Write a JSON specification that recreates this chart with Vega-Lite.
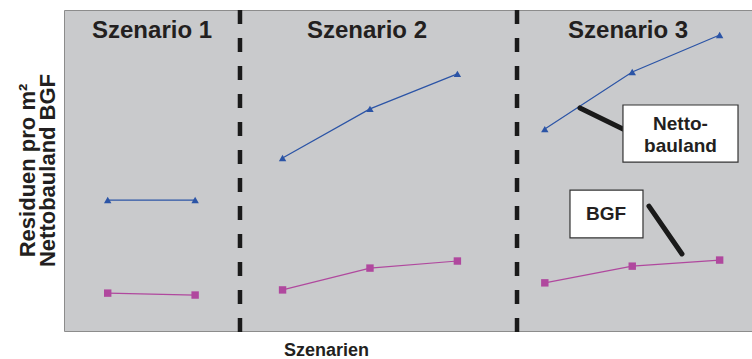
{
  "$schema": "https://vega.github.io/schema/vega-lite/v6.json",
  "autosize": "none",
  "width": 688,
  "height": 321,
  "padding": {"left": 64, "top": 10, "right": 0, "bottom": 28},
  "background": "white",
  "config": {
    "view": {"fill": "#c9cacc", "stroke": "#8c8c8c", "strokeWidth": 1},
    "font": "Liberation Sans"
  },
  "datasets": {
    "series": [
      {"idx": 1, "value": 40.8, "series": "Nettobauland", "scenario": "Szenario 1"},
      {"idx": 2, "value": 40.8, "series": "Nettobauland", "scenario": "Szenario 1"},
      {"idx": 3, "value": 53.9, "series": "Nettobauland", "scenario": "Szenario 2"},
      {"idx": 4, "value": 69.2, "series": "Nettobauland", "scenario": "Szenario 2"},
      {"idx": 5, "value": 80.1, "series": "Nettobauland", "scenario": "Szenario 2"},
      {"idx": 6, "value": 62.9, "series": "Nettobauland", "scenario": "Szenario 3"},
      {"idx": 7, "value": 80.7, "series": "Nettobauland", "scenario": "Szenario 3"},
      {"idx": 8, "value": 92.2, "series": "Nettobauland", "scenario": "Szenario 3"},
      {"idx": 1, "value": 11.8, "series": "BGF", "scenario": "Szenario 1"},
      {"idx": 2, "value": 11.2, "series": "BGF", "scenario": "Szenario 1"},
      {"idx": 3, "value": 12.8, "series": "BGF", "scenario": "Szenario 2"},
      {"idx": 4, "value": 19.6, "series": "BGF", "scenario": "Szenario 2"},
      {"idx": 5, "value": 21.8, "series": "BGF", "scenario": "Szenario 2"},
      {"idx": 6, "value": 15.0, "series": "BGF", "scenario": "Szenario 3"},
      {"idx": 7, "value": 20.2, "series": "BGF", "scenario": "Szenario 3"},
      {"idx": 8, "value": 22.1, "series": "BGF", "scenario": "Szenario 3"}
    ],
    "dividers": [
      {"pos": 2.513, "top": 100, "bottom": -0.6},
      {"pos": 5.682, "top": 100, "bottom": -0.6}
    ],
    "headers": [
      {"pos": 1.507, "y": 93.5, "label": "Szenario 1"},
      {"pos": 3.966, "y": 93.5, "label": "Szenario 2"},
      {"pos": 6.952, "y": 93.5, "label": "Szenario 3"}
    ],
    "boxes": [
      {"x1": 6.894, "x2": 8.21, "y1": 70.4, "y2": 52.6},
      {"x1": 6.288, "x2": 7.123, "y1": 43.9, "y2": 29.0}
    ],
    "leaders": [
      {"x1": 6.402, "y1": 69.5, "x2": 6.894, "y2": 62.9},
      {"x1": 7.191, "y1": 38.9, "x2": 7.569, "y2": 24.0}
    ],
    "notes": [
      {"x": 7.552, "y": 64.6, "label": "Netto-\nbauland"},
      {"x": 6.7, "y": 36.4, "label": "BGF"}
    ]
  },
  "layer": [
    {
      "data": {"name": "dividers"},
      "mark": {"type": "rule", "color": "#1a1a1a", "strokeWidth": 4.5, "strokeDash": [14, 14]},
      "encoding": {
        "x": {
          "field": "pos", "type": "quantitative",
          "scale": {"domain": [0.5, 8.37], "nice": false, "zero": false},
          "axis": {
            "domain": false, "ticks": false, "labels": false, "grid": false,
            "title": "Szenarien", "titleFontSize": 18, "titleFontWeight": "bold",
            "titleColor": "#231f20", "titleX": 262, "titleY": 19,
            "titleBaseline": "middle", "titleAlign": "center"
          }
        },
        "y": {
          "field": "top", "type": "quantitative",
          "scale": {"domain": [0, 100], "nice": false, "zero": false},
          "axis": {
            "domain": false, "ticks": false, "labels": false, "grid": false,
            "title": ["Residuen pro m²", "Nettobauland BGF"],
            "titleFontSize": 22, "titleFontWeight": "bold", "titleColor": "#231f20",
            "titleAngle": -90, "titleX": -37, "titleY": 160,
            "titleAlign": "center", "titleBaseline": "middle", "titleLineHeight": 20,
            "titleLimit": 400
          }
        },
        "y2": {"field": "bottom"}
      }
    },
    {
      "data": {"name": "series"},
      "mark": {"type": "line", "strokeWidth": 1.2},
      "encoding": {
        "x": {"field": "idx", "type": "quantitative"},
        "y": {"field": "value", "type": "quantitative"},
        "color": {
          "field": "series", "type": "nominal",
          "scale": {"domain": ["Nettobauland", "BGF"], "range": ["#2b54a6", "#b0489e"]},
          "legend": null
        },
        "detail": {"field": "scenario"}
      }
    },
    {
      "data": {"name": "series"},
      "mark": {"type": "point", "filled": true, "opacity": 1, "size": 55},
      "encoding": {
        "x": {"field": "idx", "type": "quantitative"},
        "y": {"field": "value", "type": "quantitative"},
        "color": {"field": "series", "type": "nominal", "legend": null},
        "shape": {
          "field": "series", "type": "nominal",
          "scale": {"domain": ["Nettobauland", "BGF"], "range": ["triangle-up", "square"]},
          "legend": null
        }
      }
    },
    {
      "data": {"name": "headers"},
      "mark": {"type": "text", "fontSize": 24, "fontWeight": "bold", "color": "#231f20", "align": "center", "baseline": "middle"},
      "encoding": {
        "x": {"field": "pos", "type": "quantitative"},
        "y": {"field": "y", "type": "quantitative"},
        "text": {"field": "label"}
      }
    },
    {
      "data": {"name": "leaders"},
      "mark": {"type": "rule", "color": "#1a1a1a", "strokeWidth": 5, "strokeCap": "round"},
      "encoding": {
        "x": {"field": "x1", "type": "quantitative"},
        "y": {"field": "y1", "type": "quantitative"},
        "x2": {"field": "x2"},
        "y2": {"field": "y2"}
      }
    },
    {
      "data": {"name": "boxes"},
      "mark": {"type": "rect", "fill": "white", "stroke": "#333333", "strokeWidth": 1.2},
      "encoding": {
        "x": {"field": "x1", "type": "quantitative"},
        "x2": {"field": "x2"},
        "y": {"field": "y1", "type": "quantitative"},
        "y2": {"field": "y2"}
      }
    },
    {
      "data": {"name": "notes"},
      "mark": {"type": "text", "fontSize": 19, "fontWeight": "bold", "color": "#231f20", "align": "center", "baseline": "middle", "lineBreak": "\n", "lineHeight": 22},
      "encoding": {
        "x": {"field": "x", "type": "quantitative"},
        "y": {"field": "y", "type": "quantitative"},
        "text": {"field": "label"}
      }
    }
  ]
}
